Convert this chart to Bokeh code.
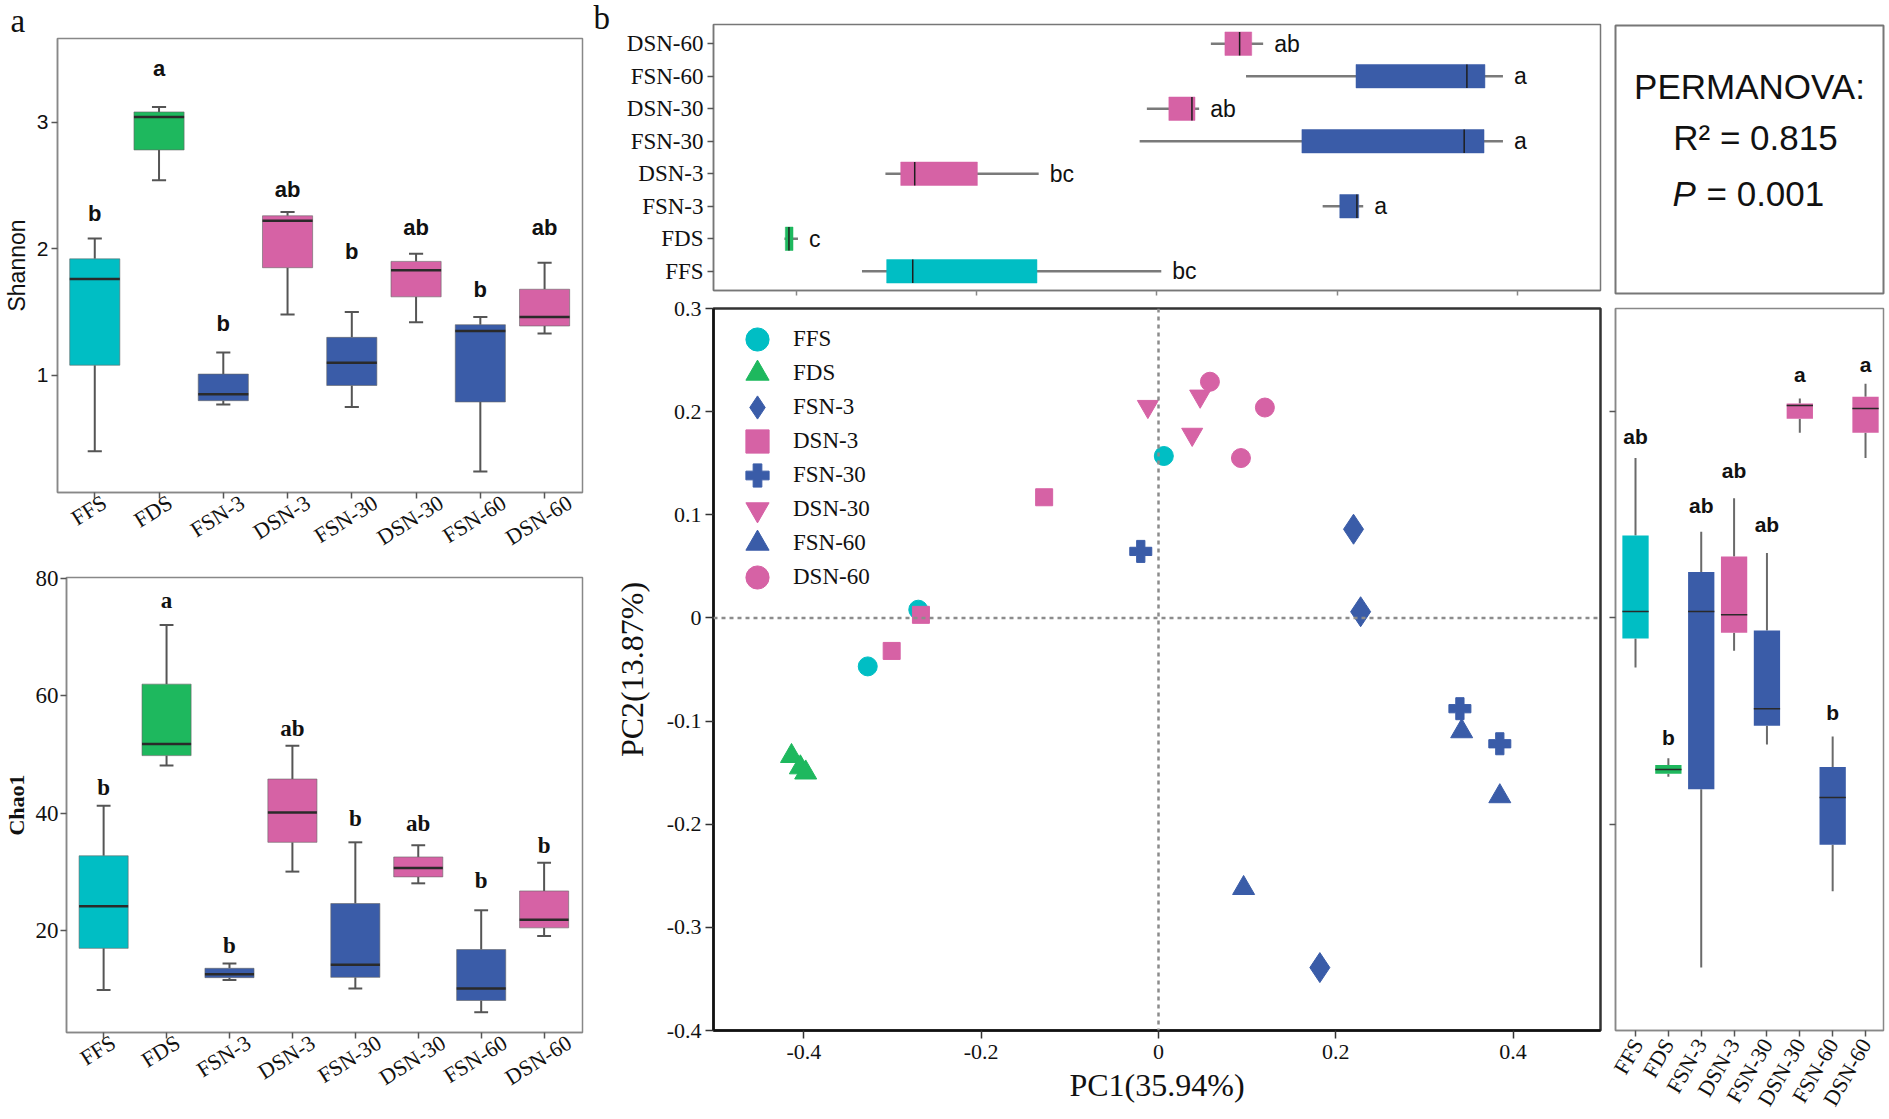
import math
from bokeh.plotting import figure
from bokeh.models import (Range1d, FixedTicker, Label, Legend, LegendItem, Span,
                          ColumnDataSource, LinearAxis, Title)
from bokeh.layouts import row, column
from bokeh.embed import file_html
from bokeh.resources import INLINE
from bokeh.core.properties import value

# ---------------- data ----------------
groups = ["FFS", "FDS", "FSN-3", "DSN-3", "FSN-30", "DSN-30", "FSN-60", "DSN-60"]

# Shannon boxplots (lower whisker, Q1, median, Q3, upper whisker)
shannon_low = [0.40, 2.54, 0.77, 1.48, 0.75, 1.42, 0.24, 1.33]
shannon_q1 = [1.08, 2.78, 0.80, 1.85, 0.92, 1.62, 0.79, 1.39]
shannon_med = [1.76, 3.04, 0.85, 2.22, 1.10, 1.83, 1.35, 1.46]
shannon_q3 = [1.92, 3.08, 1.01, 2.26, 1.30, 1.90, 1.40, 1.68]
shannon_high = [2.08, 3.12, 1.18, 2.29, 1.50, 1.96, 1.46, 1.89]
shannon_letters = ["b", "a", "b", "ab", "b", "ab", "b", "ab"]
shannon_letter_y = [2.28, 3.42, 1.41, 2.47, 1.98, 2.17, 1.68, 2.17]

# Chao1 boxplots
chao_low = [9.8, 48.1, 11.5, 30.0, 10.05, 28.0, 6.0, 19.0]
chao_q1 = [16.9, 49.8, 11.9, 35.0, 11.95, 29.1, 8.0, 20.4]
chao_med = [24.1, 51.8, 12.5, 40.1, 14.1, 30.6, 10.05, 21.8]
chao_q3 = [32.7, 62.0, 13.5, 45.8, 24.55, 32.5, 16.7, 26.7]
chao_high = [41.25, 72.1, 14.3, 51.5, 35.0, 34.5, 23.4, 31.5]
chao_letters = ["b", "a", "b", "ab", "b", "ab", "b", "b"]
chao_letter_y = [44.4, 76.2, 17.4, 54.4, 39.1, 38.2, 28.4, 34.4]

# PC1 boxplots (top of panel b)
pc1_low = [-0.327, -0.413, 0.184, -0.301, -0.019, -0.011, 0.099, 0.060]
pc1_q1 = [-0.2996, -0.412, 0.203, -0.284, 0.161, 0.0134, 0.221, 0.0756]
pc1_med = [-0.2707, -0.408, 0.222, -0.2685, 0.341, 0.039, 0.344, 0.0919]
pc1_q3 = [-0.1329, -0.4035, 0.224, -0.199, 0.363, 0.0424, 0.364, 0.1053]
pc1_high = [0.005, -0.398, 0.229, -0.131, 0.384, 0.047, 0.384, 0.118]
pc1_letters = ["bc", "c", "a", "bc", "a", "ab", "a", "ab"]

# PC2 boxplots (right of panel b)
pc2_low = [-0.048, -0.154, -0.339, -0.0318, -0.1226, 0.1795, -0.265, 0.155]
pc2_q1 = [-0.020, -0.151, -0.166, -0.0144, -0.1046, 0.193, -0.220, 0.1795]
pc2_med = [0.0062, -0.147, 0.0062, 0.003, -0.088, 0.206, -0.174, 0.203]
pc2_q3 = [0.080, -0.1426, 0.0446, 0.0595, -0.0123, 0.208, -0.1446, 0.2144]
pc2_high = [0.155, -0.136, 0.0836, 0.116, 0.063, 0.2128, -0.115, 0.227]
pc2_letters = ["ab", "b", "ab", "ab", "ab", "a", "b", "a"]
pc2_letter_y = [0.176, -0.116, 0.109, 0.1426, 0.091, 0.236, -0.092, 0.246]

# PCoA sample scores
ffs_pc1 = [0.006, -0.271, -0.328]
ffs_pc2 = [0.157, 0.008, -0.047]
fds_pc1 = [-0.414, -0.404, -0.398]
fds_pc2 = [-0.134, -0.145, -0.150]
fsn3_pc1 = [0.220, 0.228, 0.182]
fsn3_pc2 = [0.086, 0.006, -0.339]
dsn3_pc1 = [-0.129, -0.268, -0.301]
dsn3_pc2 = [0.117, 0.003, -0.032]
fsn30_pc1 = [-0.020, 0.340, 0.385]
fsn30_pc2 = [0.0645, -0.088, -0.122]
dsn30_pc1 = [-0.012, 0.047, 0.038]
dsn30_pc2 = [0.205, 0.215, 0.178]
fsn60_pc1 = [0.342, 0.385, 0.096]
fsn60_pc2 = [-0.110, -0.173, -0.262]
dsn60_pc1 = [0.058, 0.120, 0.093]
dsn60_pc2 = [0.229, 0.204, 0.155]

pc1_ticks = [-0.4, -0.2, 0, 0.2, 0.4]
pc2_ticks = [-0.4, -0.3, -0.2, -0.1, 0, 0.1, 0.2, 0.3]

# ---------------- style ----------------
CYAN, GREEN, BLUE, PINK = "#00BEC4", "#1EB85E", "#3A5CA8", "#D662A5"
group_colors = [CYAN, GREEN, BLUE, PINK, BLUE, PINK, BLUE, PINK]
group_markers = ["circle", "triangle", "diamond", "square", "plus",
                 "inverted_triangle", "triangle", "circle"]
marker_sizes = [19, 22, 30, 17, 22, 21, 22, 19]
SANS = "Liberation Sans"
SERIF = "Liberation Serif"
idx = list(range(1, len(groups) + 1))
cat_labels = {i: g for i, g in zip(idx, groups)}
SERIF_EM = {"F": 0.556, "D": 0.722, "S": 0.556, "N": 0.722, "-": 0.333}


def base_fig(width, height, borders, xr, yr, xtype="linear", ytype="linear"):
    l, r, t, b = borders
    p = figure(width=width, height=height, x_range=Range1d(*xr), y_range=Range1d(*yr),
               output_backend="svg", toolbar_location=None, tools="", title=None,
               min_border_left=l, min_border_right=r, min_border_top=t, min_border_bottom=b,
               x_axis_type=xtype, y_axis_type=ytype)
    p.grid.visible = False
    p.outline_line_color = "#888888"
    p.outline_line_width = 1.5
    return p


def style_axis(ax, font, size, ticks, overrides=None, line_color="#888888",
               tick_color="#555555", tick_out=6, standoff=4):
    ax.ticker = FixedTicker(ticks=ticks)
    if overrides:
        ax.major_label_overrides = overrides
    ax.axis_line_color = line_color
    ax.axis_line_width = 1.5
    ax.major_tick_line_color = tick_color
    ax.major_tick_line_width = 1.5
    ax.major_tick_out = tick_out
    ax.major_tick_in = 0
    ax.minor_tick_line_color = None
    ax.major_label_text_font = font
    ax.major_label_text_font_size = f"{size}px"
    ax.major_label_text_color = "#111111"
    ax.major_label_standoff = standoff


def hide_labels(ax):
    ax.major_label_text_color = None
    ax.major_label_text_font_size = "1px"
    ax.major_label_standoff = 0


def axis_title(ax, text, font, size, style, standoff):
    ax.axis_label = text
    ax.axis_label_text_font = font
    ax.axis_label_text_font_style = style
    ax.axis_label_text_font_size = f"{size}px"
    ax.axis_label_standoff = standoff
    ax.axis_label_text_color = "#111111"


def centered_category_axis(p, px_per_unit, font_px, angle_deg):
    """Extra axis that only carries the rotated group names, centred under each box."""
    a = math.radians(angle_deg)
    ticks, over = [], {}
    for i, g in zip(idx, groups):
        length = font_px * sum(SERIF_EM.get(c, 0.5) for c in g)
        shift = (length / 2 * math.cos(a) - font_px / 2 * math.sin(a)) / px_per_unit
        t = round(i + shift, 4)
        ticks.append(t)
        over[t] = g
    ax = LinearAxis(ticker=FixedTicker(ticks=ticks), major_label_overrides=over)
    ax.axis_line_color = None
    ax.major_tick_line_color = None
    ax.major_tick_out = 0
    ax.major_tick_in = 0
    ax.minor_tick_line_color = None
    ax.major_label_standoff = 2
    ax.major_label_text_font = SERIF
    ax.major_label_text_font_size = f"{font_px}px"
    ax.major_label_text_color = "#111111"
    ax.major_label_orientation = a
    p.add_layout(ax, "below")


def vboxes(p, low, q1, med, q3, high, box_w, cap_w, whisk_color, whisk_w, box_line, med_w):
    src = ColumnDataSource(dict(
        x=idx, low=low, q1=q1, med=med, q3=q3, high=high, color=group_colors,
        xl=[i - box_w / 2 for i in idx], xr=[i + box_w / 2 for i in idx],
        cl=[i - cap_w / 2 for i in idx], cr=[i + cap_w / 2 for i in idx]))
    p.segment(x0="x", y0="low", x1="x", y1="q1", source=src, line_color=whisk_color, line_width=whisk_w)
    p.segment(x0="x", y0="q3", x1="x", y1="high", source=src, line_color=whisk_color, line_width=whisk_w)
    if cap_w > 0:
        p.segment(x0="cl", y0="low", x1="cr", y1="low", source=src, line_color=whisk_color, line_width=whisk_w)
        p.segment(x0="cl", y0="high", x1="cr", y1="high", source=src, line_color=whisk_color, line_width=whisk_w)
    p.vbar(x="x", width=box_w, bottom="q1", top="q3", source=src, fill_color="color",
           line_color=box_line, line_width=1, line_alpha=0.6)
    p.segment(x0="xl", y0="med", x1="xr", y1="med", source=src, line_color="#2a2a2a", line_width=med_w)


# ---------------- panel a : Shannon ----------------
SH_X = (0.42, 8.59)
sh = base_fig(593, 563, (55, 11, 36, 70), SH_X, (0.075, 3.66))
style_axis(sh.xaxis[0], SERIF, 20, idx)
hide_labels(sh.xaxis[0])
centered_category_axis(sh, 527 / (SH_X[1] - SH_X[0]), 22, 32)
style_axis(sh.yaxis[0], SANS, 21, [1, 2, 3], standoff=3)
axis_title(sh.yaxis[0], "Shannon", SANS, 23, "normal", 4)
vboxes(sh, shannon_low, shannon_q1, shannon_med, shannon_q3, shannon_high,
       0.78, 0.22, "#555555", 2, "#666666", 2.5)
sh.text(x=idx, y=shannon_letter_y, text=shannon_letters, text_font=value(SANS),
        text_font_style="bold", text_font_size="22px", text_align="center",
        text_baseline="middle", text_color="#111111")
sh.add_layout(Title(text="a", align="left", offset=-47, standoff=0, vertical_align="bottom",
                    text_font=SERIF, text_font_style="normal", text_font_size="33px",
                    text_color="#111111"), "above")

# ---------------- panel a : Chao1 ----------------
CH_X = (0.41, 8.61)
ch = base_fig(593, 556, (65, 11, 14, 87), CH_X, (2.54, 80.2))
style_axis(ch.xaxis[0], SERIF, 20, idx)
hide_labels(ch.xaxis[0])
centered_category_axis(ch, 517 / (CH_X[1] - CH_X[0]), 22, 32)
style_axis(ch.yaxis[0], SERIF, 23, [20, 40, 60, 80], standoff=2)
axis_title(ch.yaxis[0], "Chao1", SERIF, 22, "bold", 4)
vboxes(ch, chao_low, chao_q1, chao_med, chao_q3, chao_high,
       0.78, 0.22, "#555555", 2, "#666666", 2.5)
ch.text(x=idx, y=chao_letter_y, text=chao_letters, text_font=value(SERIF),
        text_font_style="bold", text_font_size="23px", text_align="center",
        text_baseline="middle", text_color="#111111")

# ---------------- panel b : PC1 boxplots (top) ----------------
tb = base_fig(1015, 296, (120, 7, 24, 6), (-0.4917, 0.4922), (0.41, 8.59))
tb.outline_line_color = "#777777"
style_axis(tb.yaxis[0], SERIF, 23, idx, cat_labels, line_color="#777777")
style_axis(tb.xaxis[0], SERIF, 1, pc1_ticks, line_color="#777777", tick_color="#888888",
           tick_out=5, standoff=0)
hide_labels(tb.xaxis[0])
tsrc = ColumnDataSource(dict(y=idx, low=pc1_low, q1=pc1_q1, med=pc1_med, q3=pc1_q3,
                             high=pc1_high, color=group_colors, lab=pc1_letters,
                             yb=[i - 0.36 for i in idx], yt=[i + 0.36 for i in idx]))
tb.segment(x0="low", y0="y", x1="high", y1="y", source=tsrc, line_color="#7a7a7a", line_width=2.5)
tb.hbar(y="y", height=0.72, left="q1", right="q3", source=tsrc, fill_color="color",
        line_color="color", line_alpha=0.5)
tb.segment(x0="med", y0="yb", x1="med", y1="yt", source=tsrc, line_color="#1e1e1e", line_width=1.5)
tb.text(x="high", y="y", text="lab", source=tsrc, x_offset=11, text_font=value(SANS),
        text_font_size="23px", text_align="left", text_baseline="middle", text_color="#111111")
tb.add_layout(Title(text="b", align="left", offset=-120, standoff=-22, vertical_align="bottom",
                    text_font=SERIF, text_font_style="normal", text_font_size="33px",
                    text_color="#111111"), "above")

# ---------------- panel b : PCoA scatter ----------------
sc = base_fig(1015, 823, (120, 8, 12, 89), (-0.502, 0.4986), (-0.4, 0.3))
sc.outline_line_color = "#333333"
sc.outline_line_width = 2.5
style_axis(sc.xaxis[0], SERIF, 22, pc1_ticks,
           {-0.4: "-0.4", -0.2: "-0.2", 0: "0", 0.2: "0.2", 0.4: "0.4"},
           line_color="#111111", tick_color="#333333", tick_out=8, standoff=6)
style_axis(sc.yaxis[0], SERIF, 22, pc2_ticks,
           {-0.4: "-0.4", -0.3: "-0.3", -0.2: "-0.2", -0.1: "-0.1", 0: "0",
            0.1: "0.1", 0.2: "0.2", 0.3: "0.3"},
           line_color="#111111", tick_color="#333333", tick_out=8, standoff=4)
sc.xaxis[0].axis_line_width = 2.5
sc.yaxis[0].axis_line_width = 2.5
axis_title(sc.xaxis[0], "PC1(35.94%)", SERIF, 32, "normal", 5)
axis_title(sc.yaxis[0], "PC2(13.87%)", SERIF, 32, "normal", 14)
sc.add_layout(Span(location=0, dimension="height", line_color="#8c8c8c",
                   line_dash="4 4", line_width=2.5))
sc.add_layout(Span(location=0, dimension="width", line_color="#8c8c8c",
                   line_dash="4 4", line_width=2.5))

score_x = [ffs_pc1, fds_pc1, fsn3_pc1, dsn3_pc1, fsn30_pc1, dsn30_pc1, fsn60_pc1, dsn60_pc1]
score_y = [ffs_pc2, fds_pc2, fsn3_pc2, dsn3_pc2, fsn30_pc2, dsn30_pc2, fsn60_pc2, dsn60_pc2]
renderers = []
for g, xs, ys, col, mk, sz in zip(groups, score_x, score_y, group_colors, group_markers, marker_sizes):
    r = sc.scatter(x=xs, y=ys, marker=mk, size=sz, fill_color=col, line_color=col, line_width=1)
    renderers.append(r)

# legend: one small legend per row so the symbols can be drawn large
LEG_GLYPH = 58
for i, (g, r) in enumerate(zip(groups, renderers)):
    row_center = 31.5 + i * 33.9
    leg = Legend(items=[LegendItem(label=g, renderers=[r])],
                 location=(15, int(round(722 - row_center - LEG_GLYPH / 2))),
                 glyph_width=LEG_GLYPH, glyph_height=LEG_GLYPH, label_standoff=7,
                 padding=0, margin=0, spacing=0, border_line_alpha=0,
                 background_fill_alpha=0, label_text_font=SERIF,
                 label_text_font_size="23px", label_text_color="#111111")
    sc.add_layout(leg)

# ---------------- PERMANOVA box ----------------
pm = base_fig(281, 296, (7, 4, 25, 3), (0, 1), (0, 1), xtype=None, ytype=None)
pm.outline_line_color = "#777777"
pm.outline_line_width = 2
for txt, x, y, align, style in (("PERMANOVA:", 134, 207, "center", "normal"),
                                ("R² = 0.815", 140, 156, "center", "normal"),
                                ("P", 57, 100, "left", "italic"),
                                ("= 0.001", 91, 100, "left", "normal")):
    pm.add_layout(Label(x=x, y=y, x_units="screen", y_units="screen", text=txt,
                        text_align=align, text_baseline="middle", text_font_style=style,
                        text_font=SANS, text_font_size="35px", text_color="#111111"))

# ---------------- panel b : PC2 boxplots (right) ----------------
rb = base_fig(281, 823, (7, 6, 12, 89), (0.391, 8.547), (-0.4, 0.3))
style_axis(rb.xaxis[0], SERIF, 22, idx, cat_labels)
rb.xaxis[0].major_label_orientation = math.radians(60)
style_axis(rb.yaxis[0], SERIF, 1, [-0.2, 0, 0.2], standoff=0)
hide_labels(rb.yaxis[0])
vboxes(rb, pc2_low, pc2_q1, pc2_med, pc2_q3, pc2_high,
       0.8, 0, "#6a6a6a", 2, None, 1.5)
rb.text(x=idx, y=pc2_letter_y, text=pc2_letters, text_font=value(SANS),
        text_font_style="bold", text_font_size="21px", text_align="center",
        text_baseline="middle", text_color="#111111")

# wrap each plot in its own row so the column does not line up their frames
layout = row(column(row(sh), row(ch)), column(tb, sc), column(pm, rb))
open("out.html", "w").write(file_html(layout, INLINE))
